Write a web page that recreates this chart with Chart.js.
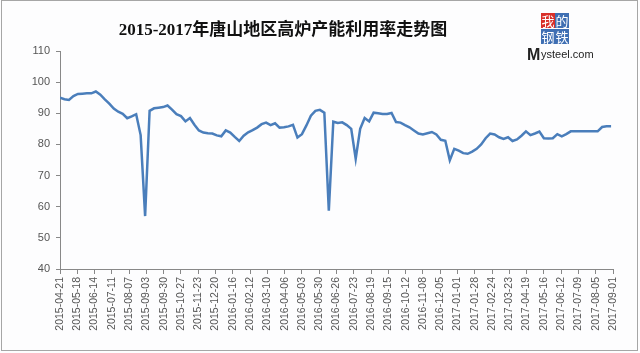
<!DOCTYPE html>
<html>
<head>
<meta charset="utf-8">
<script src="https://cdn.jsdelivr.net/npm/chart.js@4.4.0/dist/chart.umd.min.js"></script>
<style>
    html, body {margin: 0; padding: 0; background: #fff;}
    #wrap {width: 640px; height: 353px; position: relative;}
</style>
</head>
<body>
<div id="wrap"><canvas id="chart" width="640" height="353"></canvas></div>
<script>
// Data
const chartTitle = "2015-2017年唐山地区高炉产能利用率走势图";
const startDate = "2015-04-21";
const weekDays = 7;
const tickStepDays = 27;
const lastDay = 864;
const yRange = [40, 110];
const yStep = 10;

// weekly blast furnace utilization (%)
const utilization = [
    95.0, 94.5, 94.3, 95.5, 96.2, 96.3, 96.4, 96.4, 97.0, 96.0,
    94.5, 93.1, 91.5, 90.5, 89.8, 88.4, 89.0, 89.7, 83.0, 57.0,
    90.8, 91.6, 91.8, 92.0, 92.5, 91.2, 89.7, 89.1, 87.4, 88.5,
    86.3, 84.5, 83.8, 83.6, 83.5, 82.9, 82.6, 84.5, 83.8, 82.4,
    81.1, 82.8, 83.9, 84.6, 85.4, 86.5, 87.0, 86.2, 86.8, 85.4,
    85.5, 85.8, 86.3, 82.2, 83.3, 86.1, 89.2, 90.8, 91.1, 90.2,
    58.7, 87.3, 86.9, 87.1, 86.2, 85.0, 75.4, 85.0, 88.5, 87.4,
    90.2, 90.0, 89.8, 89.8, 90.1, 87.2, 87.0, 86.2, 85.5, 84.5,
    83.5, 83.2, 83.6, 84.0, 83.2, 81.5, 81.2, 74.9, 78.6, 78.0,
    77.2, 77.0, 77.7, 78.6, 80.0, 82.0, 83.5, 83.2, 82.3, 81.8,
    82.3, 81.1, 81.6, 82.8, 84.2, 83.0, 83.5, 84.1, 82.0, 81.9,
    82.0, 83.3, 82.6, 83.3, 84.2, 84.2, 84.2, 84.2, 84.2, 84.2,
    84.2, 85.6, 85.8, 85.8
];

// Function
const dayToLabel = (d) => {
    let t = new Date(startDate + "T00:00:00Z");
    t.setUTCDate(t.getUTCDate() + d);
    return t.toISOString().slice(0, 10);
}

const points = utilization.map((v, i) => ({x: i * weekDays, y: v}));

// Plugin
const decor = {
    id: "decor",
    beforeDraw: (chart) => {
        let ctx = chart.ctx;
        ctx.save();
        ctx.fillStyle = "#fdfdfe";
        ctx.fillRect(0, 0, chart.width, chart.height);
        ctx.restore();
    },
    afterDraw: (chart) => {
        let ctx = chart.ctx;
        ctx.save();
        // frame
        ctx.strokeStyle = "#a6a6a6";
        ctx.lineWidth = 1;
        ctx.strokeRect(1.5, 0.5, 636, 350);
        // title
        ctx.fillStyle = "#111";
        ctx.font = 'bold 17px "Liberation Serif", "Noto Sans CJK SC"';
        ctx.textAlign = "center";
        ctx.textBaseline = "middle";
        ctx.fillText(chartTitle, 283, 31);
        // logo
        let boxes = [["我", 541, 13, "#d9302a"], ["的", 555, 13, "#3f6fb3"],
                     ["钢", 541, 29, "#3f6fb3"], ["铁", 555, 29, "#3f6fb3"]];
        ctx.font = '13px "Noto Sans CJK SC"';
        boxes.forEach(b => {
            ctx.fillStyle = b[3];
            ctx.fillRect(b[1], b[2], 14, 15);
            ctx.fillStyle = "#fff";
            ctx.fillText(b[0], b[1] + 7, b[2] + 8);
        });
        ctx.fillStyle = "#222";
        ctx.textAlign = "left";
        ctx.textBaseline = "alphabetic";
        ctx.font = 'bold 16px "Liberation Sans"';
        ctx.fillText("M", 527, 60);
        ctx.font = '11px "Liberation Sans"';
        ctx.fillText("ysteel.com", 541, 58);
        ctx.restore();
    }
};

// Chart
new Chart(document.querySelector("#chart"), {
    type: "line",
    data: {
        datasets: [{
            data: points,
            borderColor: "#4a7ebb",
            borderWidth: 2.5,
            pointRadius: 0,
            tension: 0,
            fill: false
        }]
    },
    options: {
        responsive: false,
        animation: false,
        layout: {padding: {top: 51, right: 27, left: 0, bottom: 0}},
        plugins: {legend: {display: false}, tooltip: {enabled: false}},
        scales: {
            x: {
                type: "linear",
                min: 0,
                max: lastDay,
                afterFit: (s) => { s.height = 84; },
                grid: {drawOnChartArea: false, tickLength: 5, color: "#888"},
                border: {color: "#888"},
                ticks: {
                    stepSize: tickStepDays,
                    autoSkip: false,
                    maxRotation: 90,
                    minRotation: 90,
                    padding: 3,
                    color: "#555",
                    font: {family: "Liberation Sans", size: 10.5},
                    callback: (v) => dayToLabel(v)
                }
            },
            y: {
                min: yRange[0],
                max: yRange[1],
                afterFit: (s) => { s.width = 60; },
                grid: {drawOnChartArea: false, tickLength: 4, color: "#888"},
                border: {color: "#888"},
                ticks: {
                    stepSize: yStep,
                    padding: 6,
                    color: "#555",
                    font: {family: "Liberation Sans", size: 11}
                }
            }
        }
    },
    plugins: [decor]
});
</script>
</body>
</html>
